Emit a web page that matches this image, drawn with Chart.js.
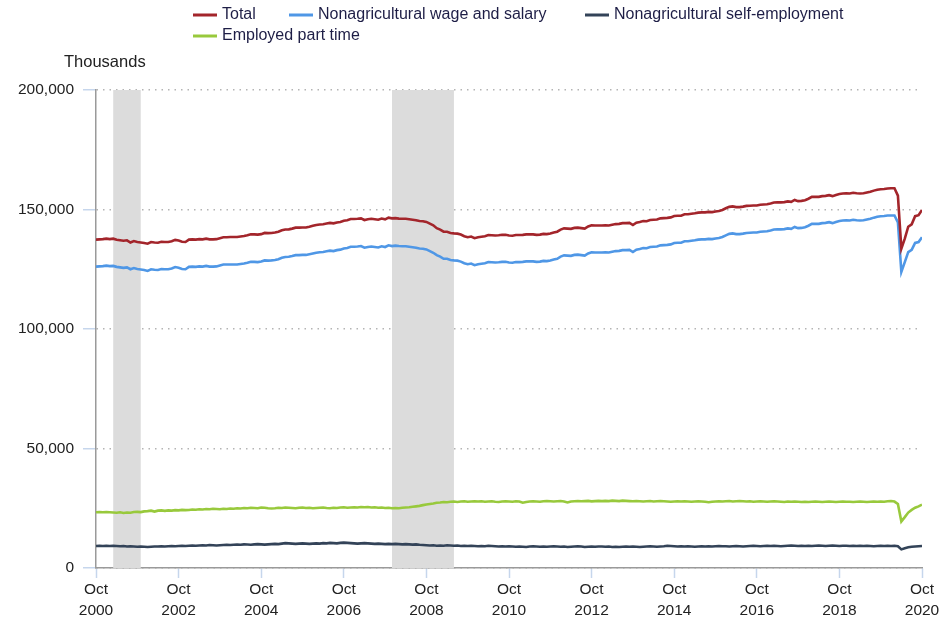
<!DOCTYPE html>
<html>
<head>
<meta charset="utf-8">
<script src="https://cdn.jsdelivr.net/npm/chart.js@4.4.0/dist/chart.umd.min.js"></script>
<style>
  html, body { margin: 0; padding: 0; background: #fff; }
  #wrap { position: relative; width: 943px; height: 620px; }
</style>
</head>
<body>
<div id="wrap"><canvas id="employmentChart" width="943" height="620"></canvas></div>
<script>
// Monthly values, thousands of persons, Oct 2000 .. Oct 2020 (index 0 = Oct 2000)
const firstYear = 2000;
const firstMonth = 10;

const totalEmployed = [
  137400, 137500, 137600,
  137800, 137600, 137800, 137300, 137100, 136900, 137100, 136200, 136800, 136400, 136200, 136000,
  135700, 136400, 136200, 136100, 136500, 136400, 136400, 136700, 137300, 137000, 136500, 136400,
  137400, 137500, 137400, 137600, 137500, 137800, 137500, 137500, 137600, 138000, 138400, 138400,
  138500, 138500, 138500, 138700, 138900, 139200, 139600, 139600, 139500, 139700, 140200, 140100,
  140200, 140400, 140700, 141300, 141600, 141700, 142000, 142400, 142400, 142500, 142500, 142800,
  143200, 143500, 143700, 143800, 144100, 144400, 144200, 144600, 144800, 145300, 145500, 146000,
  146000, 146100, 146300, 145600, 145900, 146100, 145900, 145700, 146200, 145900, 146600, 146300,
  146400, 146200, 146100, 146100, 145900, 145700, 145500, 145200, 145100, 144800, 144100, 143400,
  142200, 141600, 140700, 140700, 140200, 140000, 139900, 139500, 138800, 138400, 138700, 138000,
  138400, 138600, 138800, 139300, 139200, 139100, 139200, 139400, 139400, 139100, 139000, 139300,
  139300, 139400, 139600, 139600, 139600, 139400, 139500, 139800, 139700, 140000, 140400, 140700,
  141600, 142100, 142000, 141900, 142300, 142400, 142200, 142000, 142900, 143400, 143300, 143300,
  143300, 143400, 143300, 143600, 143900, 144000, 144300, 144300, 144400, 143500, 144500, 144800,
  145200, 145100, 145600, 145700, 145800, 146300, 146400, 146500, 146700, 147300, 147400, 147400,
  148000, 148000, 148200, 148400, 148700, 148800, 148800, 149000, 148900, 149200, 149400, 149800,
  150500, 151100, 151300, 151000, 151000, 151200, 151500, 151600, 151700, 151700, 152000, 152100,
  152200, 152500, 152900, 153000, 153000, 153100, 153400, 153200, 154000, 153500, 153600, 153900,
  154500, 155300, 155300, 155300, 155600, 155700, 156000, 155600, 156100, 156500, 156700, 156800,
  156700, 157000, 156800, 156700, 156800, 157100, 157400, 157900, 158300, 158500, 158600, 158800,
  158900, 158900, 155800, 133600, 137800, 142800, 143800, 147200, 147600, 149800
];

const nonagWageSalary = [
  126100, 126200, 126300,
  126500, 126300, 126400, 126000, 125800, 125600, 125800, 125000, 125500, 125100, 124900, 124700,
  124300, 125000, 124800, 124700, 125100, 125000, 125000, 125300, 125900, 125600, 125100, 125000,
  126000, 126100, 126000, 126200, 126100, 126400, 126100, 126100, 126200, 126600, 127000, 127000,
  127000, 127000, 127000, 127200, 127400, 127700, 128100, 128100, 128000, 128200, 128700, 128600,
  128700, 128900, 129200, 129800, 130100, 130200, 130500, 130900, 130900, 131000, 131000, 131300,
  131600, 131900, 132100, 132200, 132500, 132800, 132600, 133000, 133200, 133700, 133900, 134400,
  134400, 134500, 134700, 134000, 134300, 134500, 134300, 134100, 134600, 134300, 135000, 134700,
  134900, 134700, 134600, 134600, 134400, 134200, 134000, 133700, 133600, 133300, 132600, 131900,
  130900, 130300, 129400, 129400, 128900, 128700, 128600, 128200, 127500, 127100, 127400, 126700,
  127100, 127300, 127500, 128000, 127900, 127800, 127900, 128100, 128100, 127800, 127700, 128000,
  128000, 128100, 128300, 128300, 128300, 128100, 128200, 128500, 128400, 128700, 129100, 129400,
  130300, 130800, 130700, 130600, 131000, 131100, 130900, 130700, 131600, 132100, 132000, 132000,
  132000, 132100, 132000, 132300, 132600, 132700, 133000, 133000, 133100, 132200, 133200, 133500,
  133900, 133800, 134300, 134400, 134500, 135000, 135100, 135200, 135400, 136000, 136100, 136100,
  136700, 136700, 136900, 137100, 137400, 137500, 137500, 137700, 137600, 137900, 138100, 138500,
  139200, 139800, 140000, 139700, 139700, 139900, 140200, 140300, 140400, 140400, 140700, 140800,
  140900, 141200, 141600, 141700, 141700, 141800, 142100, 141900, 142700, 142200, 142300, 142600,
  143200, 144000, 144000, 144000, 144300, 144400, 144700, 144300, 144800, 145200, 145400, 145500,
  145400, 145700, 145500, 145400, 145500, 145800, 146100, 146600, 147000, 147200, 147300, 147500,
  147500, 147500, 144600, 123900, 128000, 132200, 133100, 136000, 136400, 138400
];

const nonagSelfEmployed = [
  9200, 9300, 9200,
  9300, 9200, 9300, 9200, 9100, 9200, 9000, 9100, 9000, 8900, 9000, 8900,
  8800, 8900, 9000, 9000, 9100, 9000, 9100, 9200, 9100, 9200, 9300, 9200,
  9300, 9400, 9300, 9400, 9500, 9400, 9600, 9500, 9400, 9500, 9600, 9700,
  9600, 9700, 9800, 9700, 9900, 9800, 9700, 9900, 10000, 9900, 9800, 9900,
  10000, 10100, 10000, 10200, 10400, 10300, 10200, 10100, 10200, 10300, 10200, 10100,
  10200, 10300, 10200, 10400, 10300, 10500, 10400, 10300, 10500, 10600, 10500, 10400,
  10300, 10200, 10300, 10400, 10300, 10200, 10100, 10200, 10100, 10000, 10100, 10000,
  10100, 10000, 9900, 10000, 9900, 9800, 9900, 9700, 9600, 9500, 9400, 9500,
  9300, 9400, 9300, 9500, 9400, 9300, 9400, 9200, 9300, 9200, 9300, 9200,
  9100, 9200, 9100, 9300, 9200, 9100, 9000, 9100, 9000, 9100, 9000, 8900,
  9000, 8900, 8800, 9000, 9100, 9000, 8900, 9000, 8900, 9000, 9100, 9000,
  8900, 9000, 8800, 8900, 9000, 9100, 9000, 8800, 8900, 9000, 8900, 9000,
  9000, 8900, 9000, 8800, 8900, 8800, 8900, 9000, 8900, 9000, 8900, 8800,
  8900, 9000, 9100, 9000, 8900, 9000, 9100, 9300, 9200, 9100, 9000, 9100,
  9000, 9100, 9000, 8900, 9000, 9100, 9000, 9100, 9000, 9100, 9200, 9100,
  9100, 9000, 9100, 9200, 9100, 9000, 9100, 9200, 9300, 9200, 9100, 9200,
  9300, 9200, 9300, 9200, 9100, 9200, 9300, 9400, 9300, 9200, 9300, 9200,
  9300, 9200, 9300, 9400, 9300, 9200, 9300, 9400, 9300, 9200, 9300, 9300,
  9200, 9300, 9200, 9300, 9200, 9300, 9200, 9100, 9200, 9300, 9200, 9300,
  9200, 9300, 9100, 7800, 8300, 8700, 8900, 9000, 9100, 9200
];

const employedPartTime = [
  23300, 23400, 23300,
  23400, 23300, 23200, 23100, 23300, 23000, 23200, 23100, 23400, 23500, 23400, 23700,
  23800, 24000, 23600, 24000, 24100, 23900, 24100, 24000, 24200, 24100, 24300, 24200,
  24300, 24500, 24400, 24600, 24500, 24700, 24600, 24800, 24700, 24600, 24800, 24700,
  24900, 24800, 25000, 24900, 25100, 25000, 25200, 25100, 25000, 25300, 25200, 25000,
  24900, 25000, 25200, 25100, 25300, 25200, 25100, 25000, 25200, 25300, 25100, 25200,
  25000, 25100, 25200, 25300, 25100, 25000, 25200, 25100, 25300, 25400, 25200, 25300,
  25400, 25300, 25500, 25400, 25500, 25300, 25400, 25200, 25300, 25100, 25200, 25000,
  25100, 25000, 25200, 25300, 25400, 25600, 25800, 26000, 26300, 26600, 26800, 27000,
  27300, 27400, 27600, 27500, 27700, 27800, 27600, 27800, 27900, 27700, 27800, 27900,
  27800, 27900, 27700, 27800, 27900, 27700, 27600, 27800, 27900, 27800, 27700, 27900,
  27800, 27300, 27600, 27800, 27900, 27800, 27700, 27900, 28000, 27900, 27800, 27900,
  28000, 27800, 27400, 27800, 27900, 28000, 27900, 28000, 28100, 27900, 28000, 28100,
  28000, 28100, 28000, 28200, 28100, 28000, 28200, 28100, 28000, 27900, 28000, 27900,
  27800, 27900, 28000, 27800, 27900, 28000, 27900, 27800, 27700, 27800, 27900, 27800,
  27900, 27800, 27700, 27800, 27900, 27800, 27700, 27500, 27700, 27800, 27900, 27800,
  27900, 28000, 27800, 27900, 28000, 27900, 27800, 27900, 27700, 27800, 27900, 27800,
  27700, 27800, 27900, 27800, 27700, 27600, 27800, 27700, 27800, 27700, 27600, 27700,
  27600, 27700, 27800, 27700, 27600, 27700, 27800, 27700, 27600, 27700, 27800, 27700,
  27700, 27600, 27700, 27800, 27700, 27600, 27700, 27800, 27700, 27800, 27700, 27900,
  28000, 27800, 26800, 19500, 21300, 23200, 24300, 25200, 25800, 26500
];

const seriesLabels = [
  'Total',
  'Nonagricultural wage and salary',
  'Nonagricultural self-employment',
  'Employed part time'
];
const seriesColors = ['#a3252b', '#4f97e6', '#334358', '#98c93c'];

// x ticks every two years, each at October
const tickYears = ['2000', '2002', '2004', '2006', '2008', '2010', '2012', '2014', '2016', '2018', '2020'];
const yTicks = [0, 50000, 100000, 150000, 200000];

// recession shading (first and last month)
const recessions = [
  ['2001-03', '2001-11'],
  ['2007-12', '2009-06']
];

const FONT = "'Liberation Sans', Arial, sans-serif";

function monthIndex(ym) {
  const [y, m] = ym.split('-').map(Number);
  return (y - firstYear) * 12 + (m - firstMonth);
}

function toPoints(values) {
  return values.map((v, i) => ({ x: i, y: v }));
}

const allSeries = [totalEmployed, nonagWageSalary, nonagSelfEmployed, employedPartTime];

const datasets = allSeries.map((values, i) => ({
  label: seriesLabels[i],
  data: toPoints(values),
  borderColor: seriesColors[i],
  backgroundColor: seriesColors[i],
  borderWidth: 2.6,
  pointRadius: 0,
  tension: 0,
  fill: false
}));

// legend spots: [swatch x, row y]
const legendSpots = [[193, 15], [289, 15], [585, 15], [193, 36]];

const extras = {
  id: 'extras',
  beforeDatasetsDraw(chart) {
    const { ctx, chartArea, scales: { x } } = chart;
    ctx.save();
    ctx.fillStyle = '#dcdcdc';
    recessions.forEach(([a, b]) => {
      const x0 = x.getPixelForValue(monthIndex(a));
      const x1 = x.getPixelForValue(monthIndex(b));
      ctx.fillRect(x0, chartArea.top, x1 - x0, chartArea.bottom - chartArea.top);
    });
    ctx.restore();
  },
  afterDraw(chart) {
    const ctx = chart.ctx;
    ctx.save();
    ctx.font = '16px ' + FONT;
    ctx.textBaseline = 'middle';
    ctx.textAlign = 'left';
    chart.data.datasets.forEach((ds, i) => {
      const [lx, ly] = legendSpots[i];
      ctx.strokeStyle = ds.borderColor;
      ctx.lineWidth = 3;
      ctx.beginPath();
      ctx.moveTo(lx, ly);
      ctx.lineTo(lx + 24, ly);
      ctx.stroke();
      ctx.fillStyle = '#1e1e46';
      ctx.fillText(ds.label, lx + 29, ly);
    });
    ctx.fillStyle = '#222';
    ctx.font = '16.5px ' + FONT;
    ctx.fillText('Thousands', 64, 62);
    ctx.restore();
  }
};

new Chart(document.getElementById('employmentChart').getContext('2d'), {
  type: 'line',
  data: { datasets },
  options: {
    responsive: false,
    animation: false,
    layout: { padding: { top: 90, right: 21, left: 0, bottom: 0 } },
    plugins: {
      legend: { display: false },
      tooltip: { enabled: false }
    },
    scales: {
      x: {
        type: 'linear',
        min: 0,
        max: (tickYears.length - 1) * 24,
        afterBuildTicks: (scale) => {
          scale.ticks = tickYears.map((_, i) => ({ value: i * 24 }));
        },
        afterFit: (scale) => { scale.height = 52; },
        ticks: {
          autoSkip: false,
          maxRotation: 0,
          padding: 1,
          color: '#222',
          font: { family: FONT, size: 15.5, lineHeight: 1.35 },
          callback: (value) => ['Oct', tickYears[Math.round(value / 24)]]
        },
        grid: {
          drawOnChartArea: false,
          drawTicks: true,
          tickLength: 10,
          tickColor: '#c6d6ec',
          tickWidth: 1.5
        },
        border: { display: true, color: '#9a9a9a', width: 1.5 }
      },
      y: {
        min: 0,
        max: 200000,
        afterBuildTicks: (scale) => {
          scale.ticks = yTicks.map(v => ({ value: v }));
        },
        afterFit: (scale) => { scale.width = 96; },
        ticks: {
          padding: 9,
          color: '#222',
          font: { family: FONT, size: 15.5 },
          callback: (value) => value.toLocaleString('en-US')
        },
        grid: {
          color: '#b4b4b4',
          lineWidth: 1.5,
          drawTicks: true,
          tickLength: 13,
          tickColor: '#c6d6ec',
          tickWidth: 1.5,
          tickBorderDash: []
        },
        border: { display: true, color: '#9a9a9a', width: 1.5, dash: [1.5, 5] }
      }
    }
  },
  plugins: [extras]
});
</script>
</body>
</html>
